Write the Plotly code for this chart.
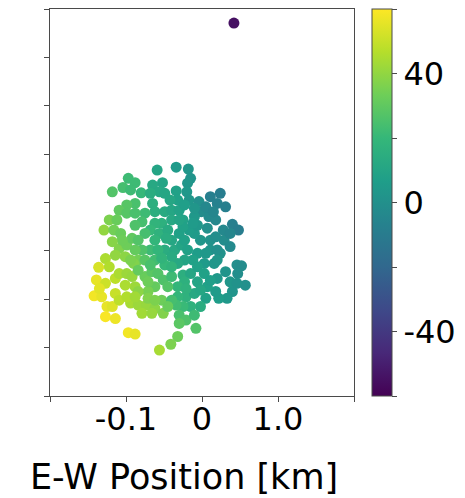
import plotly.graph_objects as go

# E-W / N-S positions (axis units) and colour value
ew = [0.42,
      -0.59, -0.34, -0.18, -0.15, -0.19, -0.20, -0.97, -0.88, -1.04, -1.18,
      -0.80, -0.65, -0.52, -0.56, -0.34, -0.32, -0.17, -0.04, -0.01, 0.11,
      0.24, 0.20, 0.31, 0.09, 0.18, 0.40, 0.48, 0.07, 0.28, 0.29,
      0.37, 0.11, -0.02, -0.10, -0.17, -0.30, -0.40, -0.49, -0.36, -0.27,
      -0.19, -0.06, -0.12, 0.03, -0.23, -0.32, -0.40, -0.65, -0.62, -0.49,
      -0.40, -0.30, -0.53, -0.62, -0.75, -0.79, -0.88, -0.68, -0.56, -0.62,
      -0.68, -0.79, -0.88, -0.99, -1.09, -0.99, -0.88, -1.22, -1.29, -1.16,
      -1.07, -1.09, -0.99, -0.92, -0.88, -0.84, -0.90, -1.01, -1.27, -1.22,
      -1.36, -1.39, -1.27, -1.14, -1.09, -0.99, -0.92, -0.88, -1.01, -1.14,
      -1.42, -1.32, -1.25, -1.18, -1.27, -1.14, -0.94, -0.84, -0.73, -0.62,
      -0.51, -0.79, -0.66, -0.53, -0.75, -0.66, -0.58, -0.51, -0.40, -0.62,
      -0.71, -0.84, -0.49, -0.40, -0.25, -0.15, -0.06, 0.03, 0.20, 0.31,
      0.46, 0.52, 0.47, 0.57, 0.40, 0.33, 0.22, 0.18, 0.05, -0.02,
      -0.15, -0.21, -0.32, -0.25, -0.34, -0.30, -0.21, -0.08, -0.32, -0.41,
      -0.56, -0.97, -0.88, -0.10, -0.40, -0.49, -0.40, -0.25, -0.10, -0.06,
      -0.25, -0.45, -0.75, -0.84, -0.75, -0.62, -0.58, -0.23, -0.32, 0.07,
      0.16, 0.24, 0.11, -0.06, -1.12, -1.14, -0.71, -1.09, -0.99, 0.20,
      -0.94, -0.68, -0.42, -0.23, -0.10, 0.05, 0.15, 0.37, 0.18, 0.20,
      0.05, -0.23, -0.47, -0.53, -0.68, -0.84, -0.94, -1.05, -1.18, -0.71,
      -0.45, -0.21, -0.02, 0.11, 0.37, 0.46, -0.62, -0.88, -0.45, -0.10,
      -0.30, -1.35, -0.30, -0.12]
ns = [3.71,
      0.67, 0.73, 0.69, 0.50, 0.40, 0.22, 0.50, 0.41, 0.31, 0.22,
      0.20, 0.36, 0.41, 0.22, 0.24, 0.05, 0.05, 0.02, -0.19, 0.12,
      0.19, -0.02, -0.09, -0.29, -0.36, -0.45, -0.57, -0.53, -0.57, -0.78,
      -0.91, -0.98, -0.78, -0.64, -0.57, -0.64, -0.78, -0.98, -0.98, -0.88,
      -0.98, -1.05, -1.19, -1.26, -1.19, -1.26, -1.12, -0.02, -0.19, -0.19,
      -0.16, -0.16, -0.43, -0.43, -0.22, -0.40, -0.47, -0.57, -0.64, -0.78,
      -0.98, -0.98, -0.02, -0.05, -0.16, -0.22, -0.22, -0.36, -0.57, -0.57,
      -0.64, -0.95, -0.88, -0.74, -0.98, -1.19, -1.26, -1.12, -1.16, -1.33,
      -1.34, -1.60, -1.67, -1.57, -1.47, -1.47, -1.53, -1.74, -1.71, -1.88,
      -1.93, -1.95, -2.15, -2.15, -2.36, -2.40, -2.08, -2.12, -2.12, -2.19,
      -2.29, -2.29, -2.29, -2.02, -1.53, -1.43, -1.47, -1.60, -1.53, -1.74,
      -1.84, -1.84, -1.29, -1.33, -1.50, -1.47, -1.64, -1.47, -1.57, -1.43,
      -1.29, -1.31, -1.47, -1.71, -1.84, -1.98, -1.98, -1.84, -1.98, -2.15,
      -2.15, -1.95, -1.95, -2.15, -2.12, -2.33, -2.43, -2.60, -2.77, -2.93,
      -3.05, -2.69, -2.72, -1.88, -2.02, 0.19, -0.36, -0.36, -0.29, -0.47,
      -0.50, -0.57, -0.64, -0.78, -1.19, -1.19, -0.98, -1.64, -1.74, -1.74,
      -1.26, -1.05, -0.78, -1.33, -0.36, -1.09, -1.98, -2.02, -1.95, -0.98,
      0.26, 0.19, 0.05, -0.05, -0.12, -0.09, -0.19, -0.64, -0.71, -1.19,
      -1.05, -0.78, -0.74, -1.15, -1.29, -1.40, -1.19, -0.78, -0.81, -1.64,
      -1.74, -1.78, -1.81, -1.61, -1.64, -1.67, -2.02, -1.95, -2.15, -2.33,
      -2.50, -1.78, -0.36, -0.43]
value = [-55,
         10, 5, 3, 2, 3, 4, 22, 22, 24, 27,
         20, 12, 10, 12, 8, 8, 3, 0, -2, -8,
         -9, -7, -8, -3, -4, -8, -9, 0, -4, -2,
         -3, 2, 3, 5, 6, 8, 11, 14, 12, 10,
         8, 6, 8, 5, 10, 12, 13, 15, 15, 13,
         11, 9, 16, 18, 22, 24, 26, 20, 17, 19,
         22, 26, 25, 28, 30, 28, 25, 36, 40, 34,
         32, 37, 33, 30, 31, 34, 37, 39, 45, 46,
         53, 56, 51, 48, 45, 42, 41, 42, 45, 50,
         58, 56, 56, 54, 59, 57, 44, 42, 41, 39,
         37, 43, 41, 33, 32, 29, 27, 26, 22, 31,
         35, 39, 20, 18, 15, 11, 10, 8, 4, 2,
         -1, -2, -1, 0, 2, 4, 6, 5, 8, 14,
         17, 17, 19, 21, 23, 25, 26, 27, 33, 36,
         44, 58, 56, 12, 24, 11, 12, 9, 4, 4,
         8, 13, 24, 27, 28, 23, 19, 16, 19, 8,
         3, 1, 1, 8, 32, 40, 37, 48, 46, 0,
         22, 14, 11, 7, 3, -4, -5, -5, -1, 3,
         4, 8, 14, 18, 25, 31, 36, 33, 38, 33,
         27, 17, 11, 7, 3, 1, 36, 43, 32, 22,
         29, 55, 10, 5]

x_tickvals = [-2, -1, 0, 1, 2]
x_ticktext = ["", "-0.1", "0", "1.0", ""]
y_tickvals = [-4, -3, -2, -1, 0, 1, 2, 3, 4]
cb_tickvals = [-60, -40, -20, 0, 20, 40, 60]
cb_ticktext = ["", "-40", "", "0", "", "40", ""]
x_title = "E-W Position [km]"

FONT = "DejaVu Sans"
AX = "#4a4a4a"

fig = go.Figure(go.Scatter(
    x=ew, y=ns, mode="markers",
    marker=dict(
        size=11, color=value, colorscale="Viridis", cmin=-60, cmax=60,
        line=dict(width=0),
        colorbar=dict(
            thickness=20, thicknessmode="pixels",
            len=1, lenmode="fraction", y=0.5, yanchor="middle",
            x=1.058, xanchor="left", xpad=0, ypad=0,
            outlinewidth=1, outlinecolor=AX,
            tickmode="array", tickvals=cb_tickvals, ticktext=cb_ticktext,
            ticks="outside", ticklen=5, tickwidth=1, tickcolor=AX,
            tickfont=dict(family=FONT, size=32, color="black"),
        ),
    ),
    showlegend=False,
))

fig.update_layout(
    width=465, height=498,
    margin=dict(l=50, r=106, t=9, b=102),
    paper_bgcolor="white", plot_bgcolor="white",
    font=dict(family=FONT, color="black"),
    xaxis=dict(
        range=[-2, 2], tickmode="array", tickvals=x_tickvals, ticktext=x_ticktext,
        ticks="outside", ticklen=5, tickwidth=1, tickcolor=AX,
        ticklabelstandoff=-10,
        showline=True, linecolor=AX, linewidth=1, mirror=True,
        showgrid=False, zeroline=False,
        tickfont=dict(family=FONT, size=32, color="black"),
    ),
    yaxis=dict(
        range=[-4, 4], tickmode="array", tickvals=y_tickvals,
        showticklabels=False,
        ticks="outside", ticklen=5, tickwidth=1, tickcolor=AX,
        showline=True, linecolor=AX, linewidth=1, mirror=True,
        showgrid=False, zeroline=False,
    ),
    annotations=[dict(
        text=x_title, xref="paper", yref="paper",
        x=0.44, y=-0.21, xanchor="center", yanchor="middle",
        showarrow=False, font=dict(family=FONT, size=35, color="black"),
    )],
)

fig.write_html("out.html")
